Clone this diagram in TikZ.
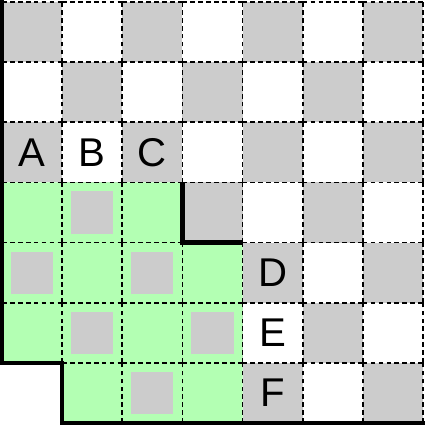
\documentclass[tikz,border=0pt]{standalone}
\usepackage{fontspec}
\setmainfont{Liberation Sans}
\definecolor{cellgrey}{RGB}{204,204,204}
\definecolor{regiongreen}{RGB}{179,255,179}
\begin{document}
\begin{tikzpicture}[x=1cm,y=1cm,
  gridline/.style={draw=black, line width=0.85pt, dash pattern=on 2.2pt off 1.55pt},
  wall/.style={draw=black, line width=2pt, line join=miter},
  letter/.style={font=\fontsize{19}{19}\selectfont, inner sep=0pt}]
\useasboundingbox (-0.035,-0.035) rectangle (7.035,7.035);
% checkerboard
\foreach \y in {0,2,4,6} \foreach \x in {0,2,4,6} \fill[cellgrey] (\x,\y) rectangle ++(1,1);
\foreach \y in {1,3,5} \foreach \x in {1,3,5} \fill[cellgrey] (\x,\y) rectangle ++(1,1);
% cell outside the region
\fill[white] (0,0) rectangle (1,1);
% green region
\fill[regiongreen] (0,3) -- (0,4) -- (3,4) -- (3,3) -- (4,3) -- (4,0) -- (1,0) -- (1,1) -- (0,1) -- cycle;
% grey squares inside the region
\foreach \x/\y in {1/3,0/2,2/2,1/1,3/1,2/0}
  \fill[cellgrey] (\x+0.15,\y+0.15) rectangle (\x+0.85,\y+0.85);
% dashed grid
\foreach \y in {1,...,7} \foreach \x in {0,...,6} \draw[gridline] (\x,\y) -- (\x+1,\y);
\foreach \x in {1,...,6} \draw[gridline] (\x,0) -- (\x+1,0);
\foreach \x in {1,...,7} \foreach \y in {0,...,6} \draw[gridline] (\x,\y) -- (\x,\y+1);
\foreach \y in {1,...,6} \draw[gridline] (0,\y) -- (0,\y+1);
% thick walls
\draw[wall] (0,7.1) -- (0,1) -- (1,1) -- (1,0) -- (7.1,0);
\draw[wall] (3,4) -- (3,3) -- (4,3);
% letters
\node[letter] (A) at (0.5,4.5) {A};
\node[letter] (B) at (1.5,4.5) {B};
\node[letter] (C) at (2.5,4.5) {C};
\node[letter] (D) at (4.5,2.5) {D};
\node[letter] (E) at (4.5,1.5) {E};
\node[letter] (F) at (4.5,0.5) {F};
\end{tikzpicture}
\end{document}
